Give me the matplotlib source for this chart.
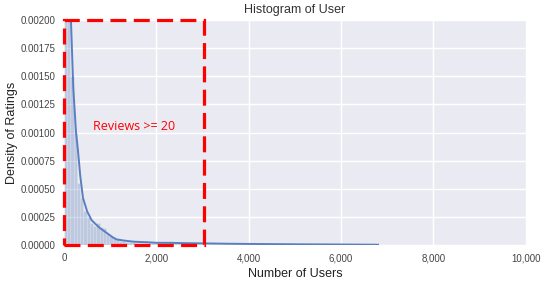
'''
Histogram of ratings per user with KDE overlay and highlighted region
'''
import matplotlib
matplotlib.use('Agg')
import matplotlib.pyplot as plt
import matplotlib.ticker as mticker
from matplotlib.patches import Rectangle
import numpy as np

# histogram bins (width 70 users), density values
bin_width = 70
bin_density = [0.0045, 0.0030, 0.0015, 0.0010, 0.00055, 0.00042, 0.00030, 0.00025,
               0.00020, 0.00017, 0.00020, 0.00016, 0.00015, 0.00010, 0.00008, 0.00006,
               0.00005, 0.00004, 0.00004, 0.00003, 0.00003, 0.00003, 0.00002, 0.00002,
               0.00002, 0.00002, 0.00002, 0.00002, 0.00002, 0.00002, 0.00002, 0.00002,
               0.00003, 0.00003, 0.00002, 0.00002, 0.00002, 0.00001, 0.00001, 0.00001,
               0.00001, 0.00001, 0.00001, 0.00001, 0.00001, 0.00001, 0.00001, 0.00001,
               0.00001, 0.00001, 0.00001, 0.00001, 0.00001, 0.00001, 0.00001, 0.00001,
               0.000005, 0.000005, 0.000005, 0.000005, 0.000005, 0.000005, 0.000005,
               0.000005, 0.000005, 0.000005, 0.000005, 0.000005, 0.000005, 0.000005,
               0.000005, 0.000005, 0.000005, 0.000005, 0.000005, 0.000005, 0.000005,
               0.000005, 0.000005, 0.000005, 0.000005, 0.000005, 0.000005, 0.000005,
               0.000005, 0.000005, 0.000005, 0.000005, 0.000005, 0.000005, 0.000005,
               0.000005, 0.000005, 0.000005, 0.000005, 0.000005, 0.000005]

# kde curve
kde_x = [0, 50, 100, 150, 200, 260, 300, 350, 410, 500, 600, 700, 780, 850, 950,
         1050, 1140, 1300, 1500, 1800, 2000, 2300, 2600, 3000, 3500, 4000, 5000,
         6000, 6800]
kde_y = [0.0035, 0.0036, 0.0028, 0.0020, 0.0014, 0.00100, 0.00085, 0.00062, 0.00042,
         0.00030, 0.00022, 0.00018, 0.00015, 0.00013, 0.00010, 0.00007, 0.00005,
         0.00004, 0.00003, 0.000025, 0.00002, 0.00002, 0.000017, 0.000015, 0.000012,
         0.00001, 0.000007, 0.000005, 0.000003]

region_max = 3030
label_text = 'Reviews >= 20'

plt.rcParams['font.family'] = ['Liberation Sans', 'DejaVu Sans']
fig = plt.figure(figsize=(5.5, 2.82), dpi=100)
ax = fig.add_axes([0.1164, 0.131, 0.8396, 0.798])
ax.set_facecolor('#EAEAF2')
for s in ax.spines.values():
    s.set_visible(False)
ax.grid(True, color='white', lw=1)
ax.set_axisbelow(True)

lefts = np.arange(len(bin_density)) * bin_width
ax.bar(lefts, bin_density, width=bin_width, align='edge', color='#4C72B0',
       alpha=0.28, edgecolor='white', linewidth=0.4)
ax.plot(kde_x, kde_y, color='#5A7FC0', lw=1.4)

ax.set_xlim(0, 10000)
ax.set_ylim(0, 0.002)
ax.set_xticks([0, 2000, 4000, 6000, 8000, 10000])
ax.set_yticks(np.linspace(0, 0.002, 9))
ax.xaxis.set_major_formatter(mticker.StrMethodFormatter('{x:,.0f}'))
ax.yaxis.set_major_formatter(mticker.FormatStrFormatter('%.5f'))
ax.tick_params(length=0, labelsize=7, colors='#444444', pad=6)

ax.set_title('Histogram of User', fontsize=9, color='#333333', pad=5)
ax.set_xlabel('Number of Users', fontsize=9, color='#222222', labelpad=3)
ax.set_ylabel('Density of Ratings', fontsize=9, color='#222222')
ax.yaxis.set_label_coords(-0.1, 0.5)

rect = Rectangle((0, 0), region_max, 0.002, fill=False, edgecolor='#FF0000',
                 lw=2.3, linestyle=(0, (5, 2.3)), clip_on=False, zorder=5)
ax.add_patch(rect)
ax.text(620, 0.00105, label_text, color='#FF0000', fontsize=9,
        family=['Open Sans', 'DejaVu Sans'], va='center', ha='left')

plt.savefig('out.png', dpi=100)
